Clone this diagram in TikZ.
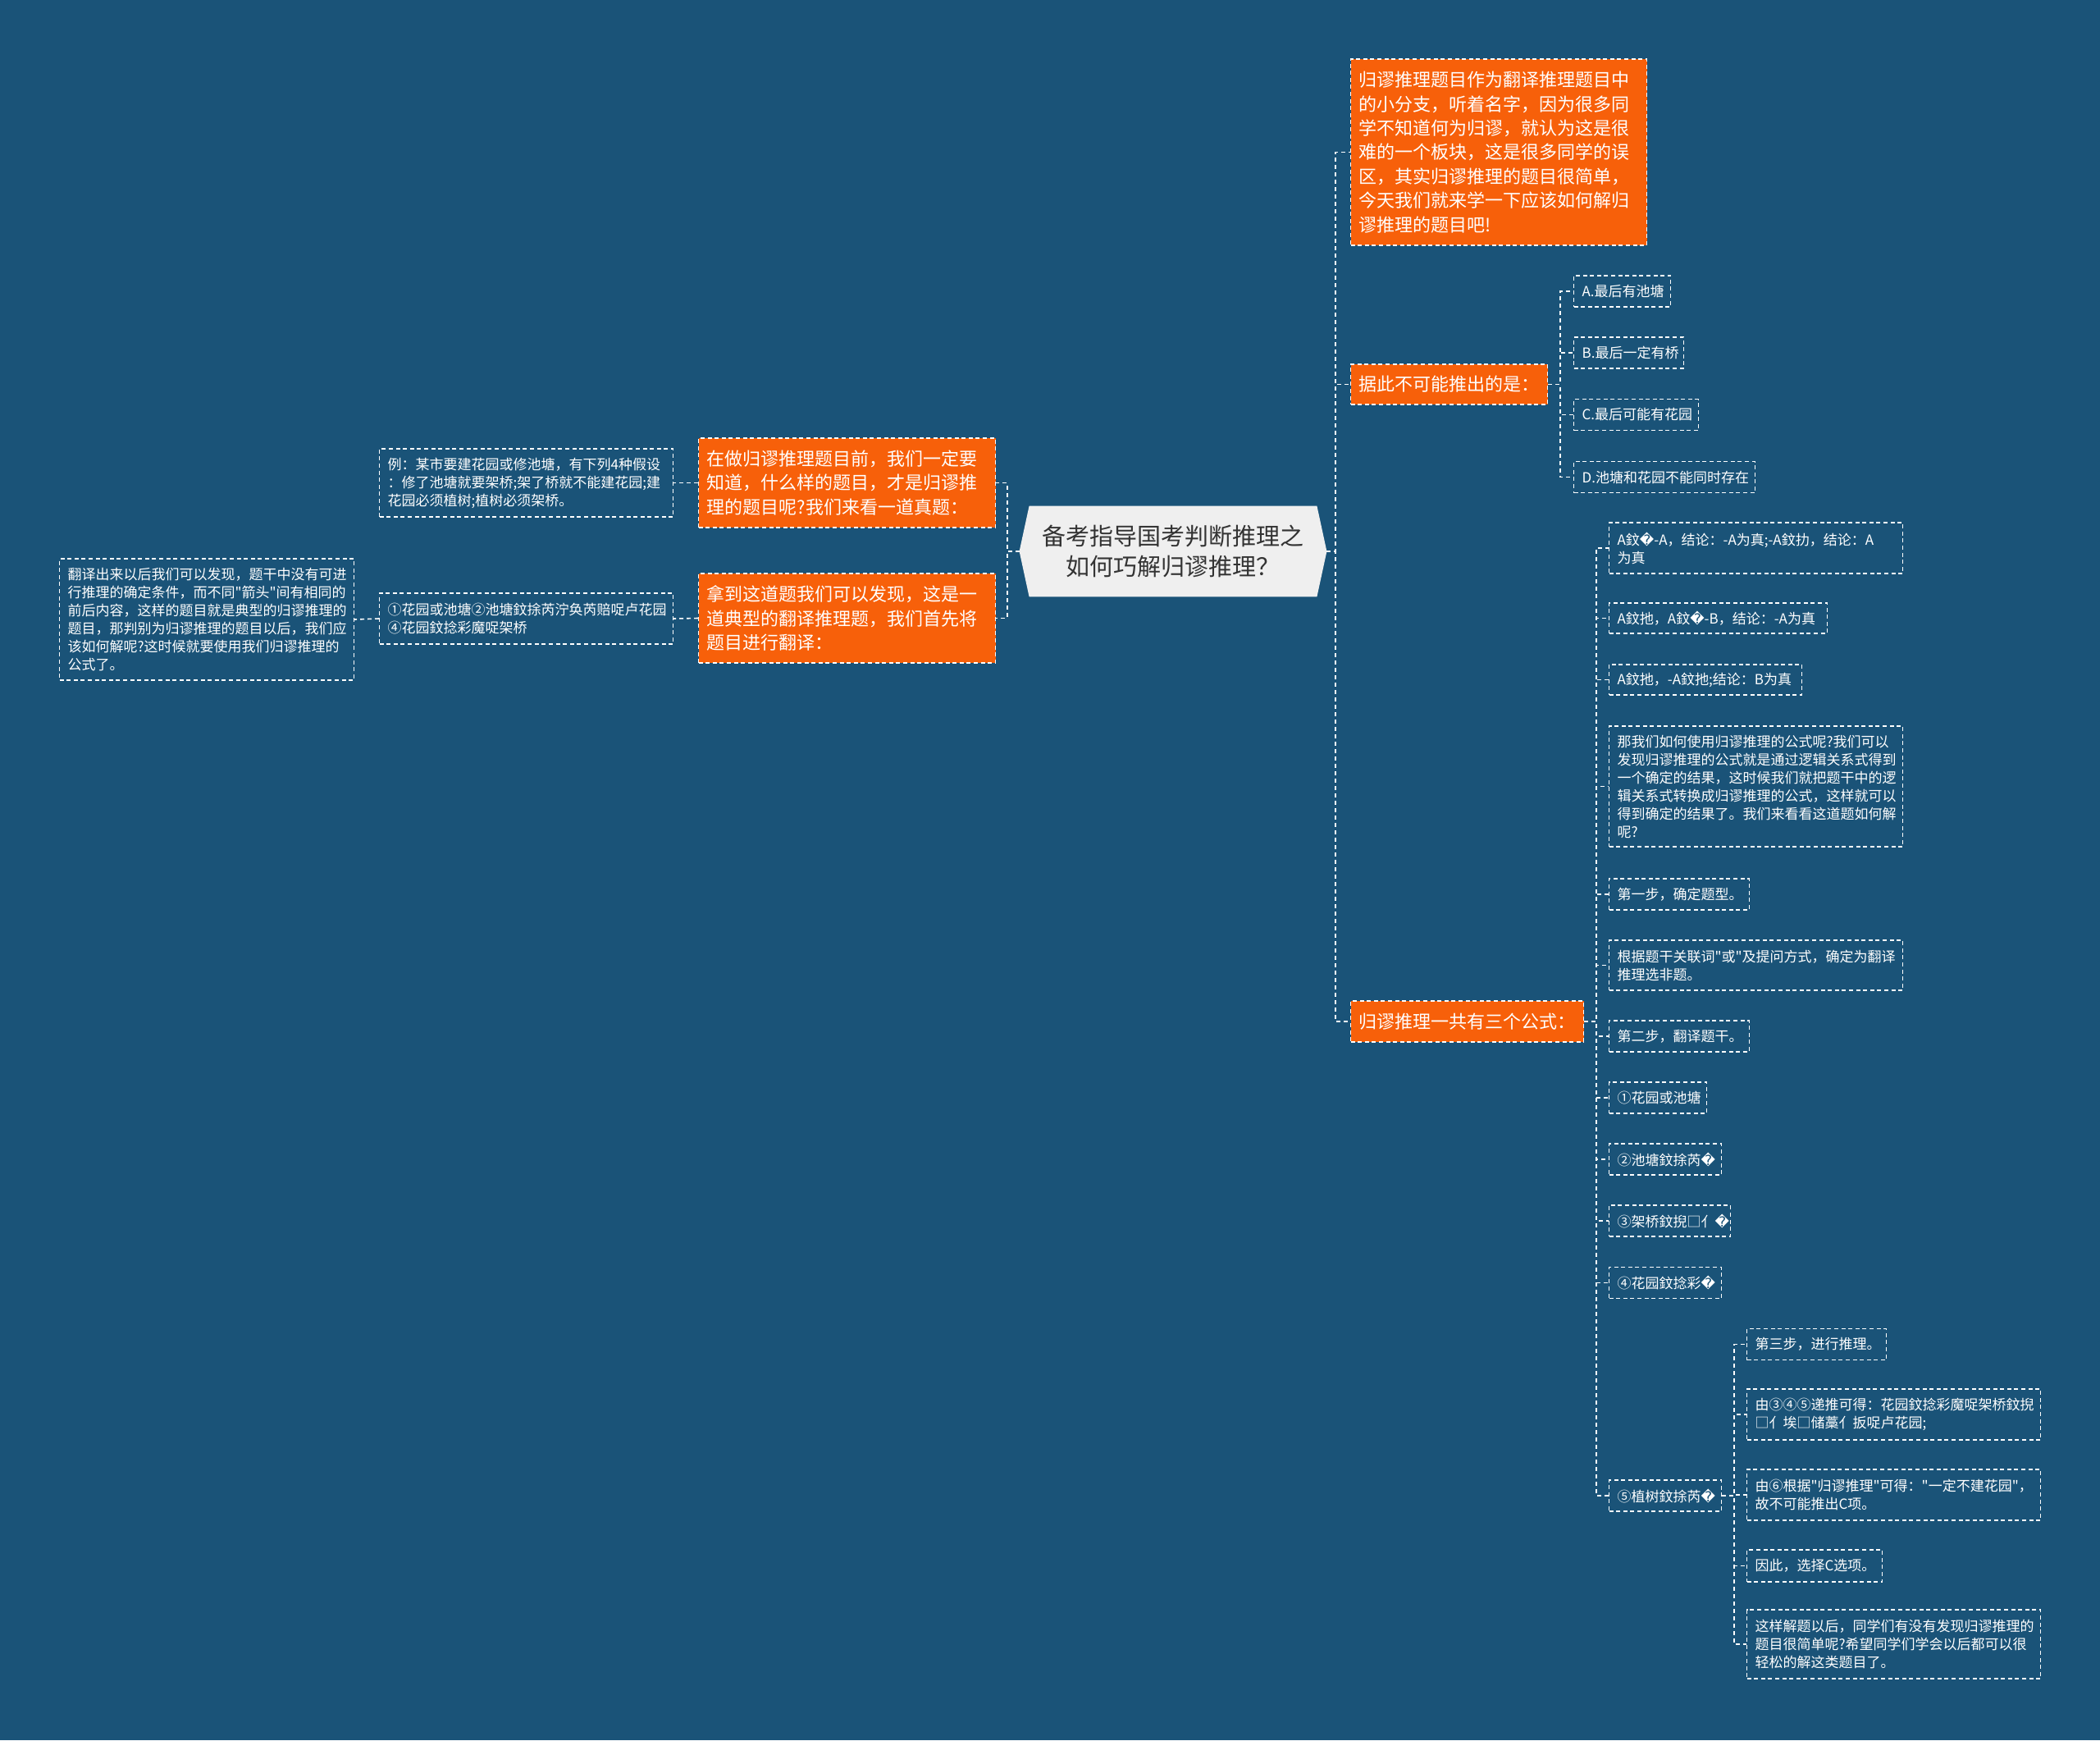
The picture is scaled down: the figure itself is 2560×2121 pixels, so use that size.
\documentclass[tikz,border=0pt]{standalone}
\usepackage{fontspec}
\setmainfont{Noto Sans CJK SC}[Ligatures=TeXOff]
\newfontfamily\dejavu{DejaVu Sans}
\newcommand{\qm}{{\dejavu\char"FFFD}}
\usetikzlibrary{backgrounds}
\definecolor{bgblue}{HTML}{1A5378}
\definecolor{hot}{HTML}{F7600A}
\definecolor{rootfill}{HTML}{EFEFEF}
\definecolor{roottext}{HTML}{333333}

\begin{document}
\begin{tikzpicture}[x=0.5pt,y=-0.5pt,
  hotbox/.style={fill=hot,draw=white,line width=0.6pt,dash pattern=on 2.5pt off 1.8pt,
    text=white,font=\fontsize{11}{14.7}\selectfont,align=left,anchor=west,inner xsep=5pt,inner ysep=0pt},
  leaf/.style={draw=white,line width=0.6pt,dash pattern=on 2.5pt off 1.8pt,
    text=white,font=\fontsize{8.5}{11}\selectfont,align=left,anchor=west,inner xsep=5pt,inner ysep=0pt},
  root/.style={text=roottext,font=\fontsize{14.5}{18.5}\selectfont,align=center,
    minimum width=187pt,minimum height=55pt,inner sep=0pt},
  link/.style={draw=white,line width=0.8pt,dash pattern=on 2.5pt off 2pt}]
\useasboundingbox (0,0) rectangle (2560,2121);

\node[root] (root) at (1430,672) {备考指导国考判断推理之\\如何巧解归谬推理？};

\node[hotbox,text width=170.5pt,minimum height=113.5pt] (why) at (1646,185.5)
  {归谬推理题目作为翻译推理题目中\\的小分支，听着名字，因为很多同\\学不知道何为归谬，就认为这是很\\难的一个板块，这是很多同学的误\\区，其实归谬推理的题目很简单，\\今天我们就来学一下应该如何解归\\谬推理的题目吧!};
\node[hotbox,text width=110pt,minimum height=24.5pt] (ask) at (1646,468.5) {据此不可能推出的是：};
\node[leaf,text width=49pt,minimum height=19pt] (optA) at (1918,355) {A.最后有池塘};
\node[leaf,text width=57pt,minimum height=19pt] (optB) at (1918,430) {B.最后一定有桥};
\node[leaf,text width=66pt,minimum height=19pt] (optC) at (1918,505.5) {C.最后可能有花园};
\node[leaf,text width=100.5pt,minimum height=19pt] (optD) at (1918,581.5) {D.池塘和花园不能同时存在};

\node[hotbox,text width=132pt,minimum height=25pt] (rule) at (1646,1245) {归谬推理一共有三个公式：};
\node[leaf,text width=169pt,minimum height=31pt] (form1) at (1961,668) {A鈫\qm-A，结论：-A为真;-A鈫扐，结论：A\\为真};
\node[leaf,text width=123pt,minimum height=18.5pt] (form2) at (1961,753.5) {A鈫扡，A鈫\qm-B，结论：-A为真};
\node[leaf,text width=107.5pt,minimum height=18.5pt] (form3) at (1961,828.5) {A鈫扡，-A鈫扡;结论：B为真};
\node[leaf,text width=169pt,minimum height=73.5pt] (howuse) at (1961,958.5)
  {那我们如何使用归谬推理的公式呢?我们可以\\发现归谬推理的公式就是通过逻辑关系式得到\\一个确定的结果，这时候我们就把题干中的逻\\辑关系式转换成归谬推理的公式，这样就可以\\得到确定的结果了。我们来看看这道题如何解\\呢?};
\node[leaf,text width=75.5pt,minimum height=19pt] (stepA) at (1961,1090) {第一步，确定题型。};
\node[leaf,text width=169pt,minimum height=30.5pt] (typeq) at (1961,1176.5) {根据题干关联词"或"及提问方式，确定为翻译\\推理选非题。};
\node[leaf,text width=75.5pt,minimum height=19pt] (stepB) at (1961,1263) {第二步，翻译题干。};
\node[leaf,text width=49.5pt,minimum height=19pt] (tr1) at (1961,1338) {①花园或池塘};
\node[leaf,text width=58.5pt,minimum height=19pt] (tr2) at (1961,1413) {②池塘鈫捈芮\qm};
\node[leaf,text width=64pt,minimum height=19pt] (tr3) at (1961,1488) {③架桥鈫掜□亻\qm};
\node[leaf,text width=58.5pt,minimum height=19pt] (tr4) at (1961,1563.5) {④花园鈫捻彩\qm};
\node[leaf,text width=58.5pt,minimum height=19pt] (tr5) at (1961,1823) {⑤植树鈫捈芮\qm};

\node[leaf,text width=75pt,minimum height=19pt] (stepC) at (2129,1638.5) {第三步，进行推理。};
\node[leaf,text width=169pt,minimum height=31pt] (infer) at (2129,1724) {由③④⑤递推可得：花园鈫捻彩魔哫架桥鈫掜\\□亻埃□储藁亻扳哫卢花园;};
\node[leaf,text width=169pt,minimum height=31pt] (byrule) at (2129,1822) {由⑥根据"归谬推理"可得："一定不建花园"，\\故不可能推出C项。};
\node[leaf,text width=72.5pt,minimum height=19.5pt] (pick) at (2129,1908.5) {因此，选择C选项。};
\node[leaf,text width=169pt,minimum height=42pt] (wrap) at (2129,2004) {这样解题以后，同学们有没有发现归谬推理的\\题目很简单呢?希望同学们学会以后都可以很\\轻松的解这类题目了。};

\node[hotbox,text width=171pt,minimum height=54.5pt] (first) at (851,588.5) {在做归谬推理题目前，我们一定要\\知道，什么样的题目，才是归谬推\\理的题目呢?我们来看一道真题：};
\node[hotbox,text width=171pt,minimum height=54.5pt] (found) at (851,753.5) {拿到这道题我们可以发现，这是一\\道典型的翻译推理题，我们首先将\\题目进行翻译：};
\node[leaf,text width=169pt,minimum height=41.5pt] (example) at (462,588.5) {例：某市要建花园或修池塘，有下列4种假设\\：修了池塘就要架桥;架了桥就不能建花园;建\\花园必须植树;植树必须架桥。};
\node[leaf,text width=169pt,minimum height=31pt] (trans) at (462,754) {①花园或池塘②池塘鈫捈芮泞奂芮赔哫卢花园\\④花园鈫捻彩魔哫架桥};
\node[leaf,text width=169.5pt,minimum height=74pt] (after) at (72,755) {翻译出来以后我们可以发现，题干中没有可进\\行推理的确定条件，而不同"箭头"间有相同的\\前后内容，这样的题目就是典型的归谬推理的\\题目，那判别为归谬推理的题目以后，我们应\\该如何解呢?这时候就要使用我们归谬推理的\\公式了。};

\coordinate (rbar) at (1628,672);
\coordinate (lbar) at (1228,672);
\coordinate (askbar) at (1902,468.5);
\coordinate (rulebar) at (1946,1245);
\coordinate (trbar) at (2114,1823);

\foreach \n in {why,ask,rule} \draw[link] (root.east) -- (rbar) |- (\n.west);
\foreach \n in {first,found} \draw[link] (root.west) -- (lbar) |- (\n.east);
\foreach \n in {optA,optB,optC,optD} \draw[link] (ask.east) -- (askbar) |- (\n.west);
\foreach \n in {form1,form2,form3,howuse,stepA,typeq,stepB,tr1,tr2,tr3,tr4,tr5}
  \draw[link] (rule.east) -- (rulebar) |- (\n.west);
\foreach \n in {stepC,infer,byrule,pick,wrap} \draw[link] (tr5.east) -- (trbar) |- (\n.west);
\draw[link] (first.west) -- (example.east);
\draw[link] (found.west) -- (trans.east);
\draw[link] (trans.west) -- (after.east);

\begin{scope}[on background layer]
\fill[bgblue] (0,0) rectangle (2560,2121);
\fill[rootfill] (root.west) -- ([xshift=6pt]root.north west) -- ([xshift=-6pt]root.north east)
  -- (root.east) -- ([xshift=-6pt]root.south east) -- ([xshift=6pt]root.south west) -- cycle;
\end{scope}
\end{tikzpicture}
\end{document}
